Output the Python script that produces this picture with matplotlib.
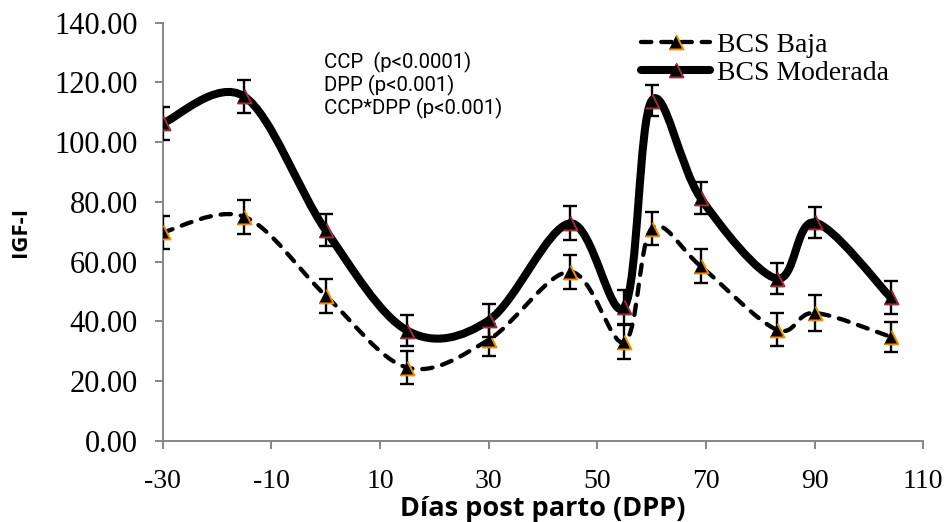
import matplotlib
matplotlib.use("Agg")
import matplotlib.pyplot as plt
from matplotlib.path import Path
from matplotlib.patches import PathPatch
from matplotlib.lines import Line2D
import numpy as np


# days post partum
dias = [-30, -15, 0, 15, 30, 45, 55, 60, 69, 83, 90, 104]

# IGF-I, low body condition score
baja = [69.8, 75.0, 48.6, 24.5, 33.8, 56.6, 33.0, 71.0, 58.5, 37.2, 42.8, 34.8]
baja_err = [5.5, 5.6, 5.7, 5.5, 5.4, 5.7, 5.6, 5.6, 5.6, 5.6, 6.0, 5.0]

# IGF-I, moderate body condition score
moderada = [106.3, 115.3, 70.5, 36.9, 40.3, 72.8, 44.9, 113.9, 81.3, 54.3, 73.1, 48.0]
moderada_err = [5.6, 5.6, 5.3, 5.3, 5.5, 5.7, 5.7, 5.2, 5.2, 5.3, 5.3, 5.4]

x_ticks = [-30, -10, 10, 30, 50, 70, 90, 110]
y_ticks = [0, 20, 40, 60, 80, 100, 120, 140]

stats_text = ["CCP  (p<0.0001)", "DPP (p<0.001)", "CCP*DPP (p<0.001)"]

AXIS_GREY = "#868686"
SERIF = "Liberation Serif"
ORANGE = "#F28C00"
WINE = "#A02C3C"
DASHES = (0, (2.4, 2.3))

# right and bottom edges of the triangle, to colour them like Excel does
EDGE_MARK = Path([(0, 1), (1, -1), (-1, -1)], [Path.MOVETO, Path.LINETO, Path.LINETO])


def smooth_path(xs, ys):
    """Excel-like smoothed line: Catmull-Rom segments as cubic Bezier curves"""
    pts = np.column_stack([xs, ys]).astype(float)
    verts = [pts[0]]
    codes = [Path.MOVETO]
    n = len(pts)
    for i in range(n - 1):
        p0 = pts[i - 1] if i > 0 else pts[i]
        p1 = pts[i]
        p2 = pts[i + 1]
        p3 = pts[i + 2] if i + 2 < n else pts[i + 1]
        c1 = p1 + (p2 - p0) / 6.0
        c2 = p2 - (p3 - p1) / 6.0
        verts += [c1, c2, p2]
        codes += [Path.CURVE4] * 3
    return Path(verts, codes)


def draw_markers(xs, ys, color, z):
    ax.plot(xs, ys, linestyle="none", marker="^", markersize=10,
            markerfacecolor="black", markeredgecolor="black",
            markeredgewidth=0.5, zorder=z)
    ax.plot(xs, ys, linestyle="none", marker=EDGE_MARK, markersize=10,
            markerfacecolor="none", markeredgecolor=color,
            markeredgewidth=1.4, zorder=z)


fig = plt.figure(figsize=(9.46, 5.22), dpi=100)
ax = fig.add_axes([0.172, 0.1557, 0.804, 0.8008])

# low BCS: dashed line
ax.add_patch(PathPatch(smooth_path(dias, baja), fill=False, edgecolor="black",
                       linewidth=3.1, linestyle=DASHES,
                       capstyle="round", zorder=2))
ax.errorbar(dias, baja, yerr=baja_err, fmt="none", ecolor="black",
            elinewidth=1.7, capsize=4.7, capthick=1.7, zorder=3)
draw_markers(dias, baja, ORANGE, 4)

# moderate BCS: thick solid line
ax.add_patch(PathPatch(smooth_path(dias, moderada), fill=False, edgecolor="black",
                       linewidth=5.8, capstyle="round", joinstyle="round",
                       zorder=5))
ax.errorbar(dias, moderada, yerr=moderada_err, fmt="none", ecolor="black",
            elinewidth=1.7, capsize=4.7, capthick=1.7, zorder=6)
draw_markers(dias, moderada, WINE, 7)

ax.set_xlim(-30, 110)
ax.set_ylim(0, 140)
ax.set_xticks(x_ticks)
ax.set_yticks(y_ticks)
ax.set_xticklabels([str(t) for t in x_ticks], fontfamily=SERIF, fontsize=20)
ax.set_yticklabels(["%.2f" % t for t in y_ticks], fontfamily=SERIF, fontsize=22)

for side in ["top", "right"]:
    ax.spines[side].set_visible(False)
for side in ["left", "bottom"]:
    ax.spines[side].set_color(AXIS_GREY)
    ax.spines[side].set_linewidth(1.4)
ax.tick_params(axis="both", direction="out", length=6, width=1.4, color=AXIS_GREY)
ax.tick_params(axis="y", pad=12)
ax.tick_params(axis="x", pad=14)

ax.set_xlabel("Días post parto (DPP)", fontfamily="Open Sans", fontweight="bold",
              fontsize=19.5, va="center")
ax.xaxis.set_label_coords(0.5, -0.163)
ax.set_ylabel("IGF-I", fontfamily="Open Sans", fontweight="bold", fontsize=16,
              va="center")
ax.yaxis.set_label_coords(-0.187, 0.499)

for i, line in enumerate(stats_text):
    ax.text(0.212, 0.904 - i * 0.054, line, transform=ax.transAxes,
            fontfamily="Roboto", fontsize=14.7, va="center", ha="left")

handles = [
    Line2D([], [], color="black", linewidth=3.1, linestyle=DASHES,
           dash_capstyle="round", marker="^", markersize=10,
           markerfacecolor="black", markeredgecolor="black", markeredgewidth=0.5),
    Line2D([], [], color="black", linewidth=5.8, solid_capstyle="round",
           marker="^", markersize=10, markerfacecolor="black",
           markeredgecolor="black", markeredgewidth=0.5),
]
handles_edge = [
    Line2D([], [], linestyle="none", marker=EDGE_MARK, markersize=10,
           markerfacecolor="none", markeredgecolor=ORANGE, markeredgewidth=1.4),
    Line2D([], [], linestyle="none", marker=EDGE_MARK, markersize=10,
           markerfacecolor="none", markeredgecolor=WINE, markeredgewidth=1.4),
]
ax.legend([(handles[0], handles_edge[0]), (handles[1], handles_edge[1])],
          ["BCS Baja", "BCS Moderada"], loc="upper left",
          bbox_to_anchor=(0.614, 1.004), frameon=False,
          prop={"family": SERIF, "size": 20}, handlelength=2.5,
          handletextpad=0.25, labelspacing=0.1, borderaxespad=0.0)

fig.savefig("out.png", dpi=100)
